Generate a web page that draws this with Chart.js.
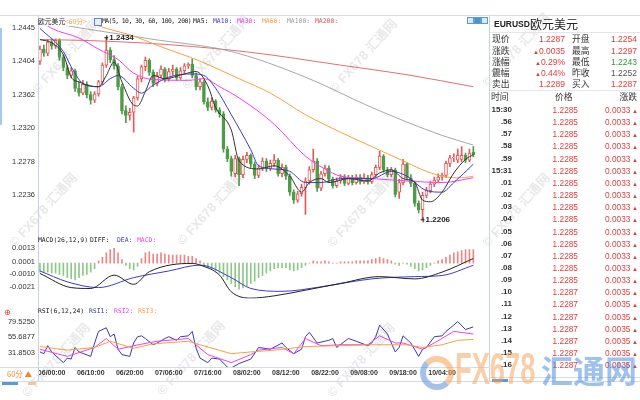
<!DOCTYPE html>
<html><head><meta charset="utf-8">
<script src="https://cdn.jsdelivr.net/npm/chart.js@4.4.1/dist/chart.umd.min.js"></script>
<style>
html,body{margin:0;padding:0;background:#fff;width:640px;height:400px;overflow:hidden;font-family:"Liberation Sans",Arial,sans-serif;position:relative;}
canvas{position:absolute;left:0;}
.t{position:absolute;line-height:10px;white-space:pre;}
.m{font-family:"DejaVu Sans Mono","Liberation Mono",monospace;font-size:6.4px;color:#222;}
.ln{position:absolute;background:#d3dae3;}
.wm{position:absolute;white-space:pre;font-size:13px;font-weight:bold;color:rgba(120,120,120,0.17);transform-origin:left bottom;transform:rotate(-48deg);line-height:14px;font-family:"Liberation Sans","Noto Sans CJK SC",sans-serif;}
</style></head><body>
<canvas id="main" width="490" height="214" style="top:16px;width:490px;height:214px"></canvas>
<canvas id="macd" width="490" height="76" style="top:230px;width:490px;height:76px"></canvas>
<canvas id="rsi" width="490" height="76" style="top:306px;width:490px;height:76px"></canvas>
<script>
// ---------- DATA ----------
const tickLabels=['06/00:00','06/10:00','06/20:00','07/06:00','07/16:00','08/02:00','08/12:00','08/22:00','09/08:00','09/18:00','10/04:00'];
const labels=[];
for(let k=0;k<115;k++){const h=21+k;const d=5+Math.floor(h/24);labels.push(String(d).padStart(2,'0')+'/'+String(h%24).padStart(2,'0')+':00');}

const opens=[1.2404,1.2419,1.2414,1.2428,1.2423,1.2430,1.2409,1.2396,1.2386,1.2392,
1.2370,1.2364,1.2375,1.2362,1.2355,1.2363,1.2378,1.2399,1.2418,1.2406,
1.2398,1.2372,1.2342,1.2336,1.2340,1.2358,1.2382,1.2397,1.2405,1.2390,
1.2376,1.2386,1.2394,1.2381,1.2391,1.2394,1.2383,1.2392,1.2398,1.2400,
1.2386,1.2372,1.2378,1.2353,1.2346,1.2354,1.2343,1.2338,1.2294,1.2282,
1.2263,1.2282,1.2262,1.2281,1.2286,1.2275,1.2261,1.2270,1.2279,1.2270,
1.2276,1.2280,1.2263,1.2271,1.2260,1.2240,1.2230,1.2238,1.2246,1.2254,
1.2268,1.2279,1.2245,1.2263,1.2270,1.2256,1.2248,1.2254,1.2259,1.2251,
1.2258,1.2252,1.2259,1.2253,1.2258,1.2253,1.2262,1.2271,1.2285,1.2268,
1.2262,1.2268,1.2240,1.2252,1.2275,1.2258,1.2251,1.2226,1.2218,1.2236,
1.2242,1.2250,1.2255,1.2259,1.2261,1.2276,1.2283,1.2280,1.2281,1.2286,
1.2280,1.2290];
const highs=[1.2423,1.2424,1.2431,1.2432,1.2432,1.2432,1.2412,1.2399,1.2396,1.2394,
1.2378,1.2380,1.2378,1.2366,1.2366,1.2380,1.2402,1.2434,1.2421,1.2411,
1.2401,1.2375,1.2348,1.2345,1.2360,1.2385,1.2399,1.2409,1.2407,1.2393,
1.2390,1.2398,1.2396,1.2395,1.2399,1.2396,1.2396,1.2401,1.2402,1.2407,
1.2389,1.2382,1.2380,1.2358,1.2358,1.2356,1.2346,1.2341,1.2297,1.2285,
1.2286,1.2284,1.2285,1.2290,1.2288,1.2278,1.2274,1.2283,1.2282,1.2280,
1.2287,1.2282,1.2275,1.2274,1.2263,1.2243,1.2241,1.2250,1.2258,1.2272,
1.2294,1.2282,1.2266,1.2274,1.2273,1.2259,1.2258,1.2262,1.2262,1.2261,
1.2261,1.2262,1.2262,1.2263,1.2261,1.2265,1.2274,1.2291,1.2287,1.2271,
1.2271,1.2270,1.2256,1.2281,1.2277,1.2262,1.2254,1.2229,1.2240,1.2246,
1.2254,1.2259,1.2263,1.2264,1.2279,1.2286,1.2288,1.2294,1.2297,1.2289,
1.2294,1.2297];
const lows=[1.2400,1.2410,1.2411,1.2419,1.2420,1.2405,1.2392,1.2382,1.2383,1.2366,
1.2360,1.2362,1.2358,1.2350,1.2352,1.2360,1.2375,1.2396,1.2402,1.2394,
1.2368,1.2338,1.2327,1.2330,1.2315,1.2355,1.2378,1.2392,1.2386,1.2372,
1.2373,1.2383,1.2378,1.2379,1.2386,1.2380,1.2381,1.2389,1.2395,1.2383,
1.2368,1.2368,1.2350,1.2342,1.2343,1.2340,1.2334,1.2290,1.2278,1.2260,
1.2259,1.2248,1.2258,1.2277,1.2271,1.2257,1.2258,1.2267,1.2266,1.2267,
1.2272,1.2260,1.2259,1.2256,1.2236,1.2226,1.2227,1.2235,1.2212,1.2250,
1.2265,1.2241,1.2242,1.2260,1.2252,1.2245,1.2246,1.2251,1.2248,1.2249,
1.2249,1.2250,1.2250,1.2251,1.2250,1.2251,1.2259,1.2268,1.2265,1.2259,
1.2259,1.2234,1.2232,1.2249,1.2255,1.2247,1.2222,1.2214,1.2206,1.2233,
1.2239,1.2247,1.2252,1.2255,1.2258,1.2272,1.2278,1.2277,1.2278,1.2277,
1.2278,1.2284];
const closes=[1.2419,1.2414,1.2428,1.2423,1.2430,1.2409,1.2396,1.2386,1.2392,1.2370,
1.2364,1.2375,1.2362,1.2355,1.2363,1.2378,1.2399,1.2418,1.2406,1.2398,
1.2372,1.2342,1.2336,1.2340,1.2358,1.2382,1.2397,1.2405,1.2390,1.2376,
1.2386,1.2394,1.2381,1.2391,1.2394,1.2383,1.2392,1.2398,1.2400,1.2386,
1.2372,1.2378,1.2353,1.2346,1.2354,1.2343,1.2338,1.2294,1.2282,1.2266,
1.2282,1.2262,1.2281,1.2286,1.2275,1.2261,1.2270,1.2279,1.2270,1.2276,
1.2280,1.2263,1.2271,1.2260,1.2240,1.2230,1.2238,1.2246,1.2254,1.2268,
1.2279,1.2245,1.2263,1.2270,1.2256,1.2248,1.2254,1.2259,1.2251,1.2258,
1.2252,1.2259,1.2253,1.2258,1.2253,1.2262,1.2271,1.2285,1.2268,1.2262,
1.2268,1.2237,1.2252,1.2275,1.2258,1.2251,1.2226,1.2218,1.2236,1.2242,
1.2250,1.2255,1.2259,1.2261,1.2276,1.2283,1.2284,1.2286,1.2286,1.2280,
1.2289,1.2287];

// moving averages: [candle index, value]
const ma5=[[0,1.2431],[3,1.2427],[6,1.2412],[8,1.2384],[10,1.2378],[13,1.2373],[15,1.2372],[17,1.2386],[19,1.2403],[21,1.2378],[24,1.2349],[25,1.2348],[27,1.2366],[29,1.2386],[32,1.2382],[37,1.2388],[40,1.2391],[43,1.2373],[45,1.2346],[49,1.2318],[51,1.2279],[56,1.2269],[60,1.2273],[64,1.2260],[67,1.2240],[69,1.2252],[72,1.2257],[74,1.2252],[79,1.2257],[84,1.2254],[87,1.2264],[90,1.2268],[93,1.2257],[96,1.2252],[98,1.2230],[100,1.2228],[103,1.2240],[106,1.2264],[109,1.2281],[111,1.2287]];
const ma10=[[0,1.2445],[6,1.2416],[8,1.2397],[11,1.2376],[15,1.2372],[18,1.2382],[20,1.2386],[24,1.2370],[26,1.2364],[29,1.2374],[33,1.2384],[39,1.2388],[42,1.2386],[45,1.2370],[49,1.2337],[54,1.2293],[56,1.2273],[60,1.2269],[64,1.2266],[68,1.2252],[72,1.2252],[77,1.2257],[85,1.2257],[90,1.2266],[94,1.2260],[99,1.2242],[103,1.2240],[106,1.2252],[111,1.2275]];
const ma30=[[0,1.2455],[3,1.2445],[10,1.2433],[15,1.2419],[20,1.2406],[24,1.2389],[29,1.2381],[38,1.2380],[42,1.2382],[46,1.2372],[51,1.2358],[60,1.2325],[68,1.2285],[73,1.2269],[77,1.2260],[85,1.2257],[94,1.2254],[103,1.2252],[111,1.2258]];
const ma60=[[10,1.2458],[17,1.2445],[23,1.2437],[31,1.2422],[41,1.2404],[51,1.2382],[59,1.2364],[68,1.2337],[77,1.2315],[85,1.2297],[94,1.2277],[99,1.2266],[104,1.2259],[108,1.2258],[111,1.2260]];
const ma100=[[0,1.2454],[11,1.2445],[28,1.2432],[49,1.2416],[68,1.2384],[85,1.2346],[103,1.2311],[111,1.2299]];
const ma200=[[0,1.2431],[11,1.2430],[32,1.2425],[54,1.2415],[77,1.2399],[94,1.2387],[111,1.2372]];

const macdHist=[-0.0008,-0.0008,-0.0008,-0.0009,-0.0009,-0.0010,-0.0011,-0.0013,-0.0014,-0.0015,
-0.0013,-0.0011,-0.0010,-0.0008,-0.0005,0.0002,0.0005,0.0009,0.0012,0.0013,
0.0009,0.0003,-0.0002,-0.0005,-0.0006,-0.0003,0.0004,0.0009,0.0010,0.0008,
0.0008,0.0009,0.0008,0.0007,0.0007,0.0007,0.0007,0.0007,0.0006,0.0006,
0.0004,0.0002,-0.0002,-0.0004,-0.0005,-0.0007,-0.0009,-0.0012,-0.0015,-0.0018,
-0.0021,-0.0023,-0.0022,-0.0020,-0.0018,-0.0016,-0.0013,-0.0011,-0.0009,-0.0007,
-0.0005,-0.0004,-0.0004,-0.0004,-0.0006,-0.0007,-0.0006,-0.0004,-0.0002,0.0000,
0.0002,0.0001,0.0001,0.0002,0.0001,0.0000,0.0000,0.0001,0.0001,0.0001,
0.0001,0.0002,0.0002,0.0002,0.0002,0.0003,0.0004,0.0005,0.0004,0.0003,
0.0002,-0.0001,-0.0002,0.0000,-0.0001,-0.0003,-0.0005,-0.0007,-0.0006,-0.0004,
-0.0002,0.0000,0.0002,0.0003,0.0005,0.0007,0.0009,0.0010,0.0011,0.0012,
0.0012,0.0012];
const diff=[[0,-0.00092],[8,-0.00217],[13,-0.00225],[19,-0.00107],[24,-0.00188],[28,-0.00077],[39,-0.00003],[41,-0.00018],[46,-0.00107],[49,-0.00254],[54,-0.00310],[60,-0.0029],[68,-0.0024],[77,-0.0018],[87,-0.0012],[96,-0.0014],[103,-0.0008],[111,0.0004]];
const dea=[[0,-0.0007],[7,-0.00166],[15,-0.00217],[24,-0.00129],[33,-0.0007],[41,-0.00018],[49,-0.00129],[54,-0.00225],[62,-0.0025],[72,-0.0021],[85,-0.0014],[96,-0.0012],[103,-0.0011],[111,-0.0002]];

const rsi1=[[0,33.2],[1,30.5],[2,42.7],[3,33.2],[5,22.3],[6,16.9],[7,23.7],[8,22.3],[9,40],[10,33.2],[13,26.4],[14,46.8],[15,64.5],[17,70],[18,56.4],[19,60.5],[20,37.3],[21,29.1],[23,26.4],[24,46.8],[25,56.4],[26,57.7],[27,53.6],[29,44.1],[30,46.8],[32,53.6],[33,56.4],[35,50.9],[36,56.4],[38,57.7],[39,64.5],[40,38.7],[41,23.7],[43,16.9],[44,23.7],[46,22.3],[48,10],[49,8.7],[51,15.5],[54,22.3],[56,40],[59,37.3],[62,46.8],[63,40],[65,30.5],[67,37.3],[68,56.4],[69,63.2],[71,46.8],[74,50.9],[75,53.6],[76,40],[79,53.6],[81,49.5],[84,42.7],[85,46.8],[86,56.4],[87,74.1],[89,60.5],[91,33.2],[92,40],[93,57.7],[95,46.8],[97,26.4],[98,37.3],[99,40],[101,56.4],[103,57.7],[104,64.5],[106,74.1],[107,79.5],[109,67.3],[111,71.4]];
const rsi2=[[0,37.3],[7,26.4],[14,40],[17,53.6],[20,37.3],[24,42.7],[30,49.5],[38,53.6],[43,29.1],[49,16.9],[54,29.1],[56,35.9],[62,40],[65,30.5],[68,53.6],[72,42.7],[77,44.1],[84,44.1],[87,57.7],[91,46.8],[93,46.8],[98,37.3],[101,46.8],[106,64.5],[111,60.5]];
const rsi3=[[0,41.4],[7,35.9],[14,40],[18,49.5],[24,38.7],[29,45.5],[38,49.5],[41,44.1],[49,30.5],[54,33.2],[60,35.9],[68,41.4],[77,42.8],[85,44.1],[94,44.1],[98,40],[103,44.1],[107,50.9],[111,52.3]];

const yTicksMain=[1.2236,1.2278,1.2320,1.2362,1.2404,1.2445];
const yTicksMacd=[-0.0021,-0.0010,0.0001,0.0013];
const yTicksRsi=[31.8503,55.6877,79.5250];

// ---------- CHARTS ----------
const RED='#e05a5a', GREEN='#4f9b47';
const up=i=>closes[i]>=opens[i];
const pts=a=>a.map(([i,v])=>({x:labels[i],y:v}));
const line=(data,color,extra)=>Object.assign({type:'line',data:pts(data),borderColor:color,borderWidth:1,pointRadius:0,cubicInterpolationMode:'monotone',spanGaps:true,order:0},extra||{});
const yAxis=(min,max,ticks)=>({min,max,afterBuildTicks:s=>{s.ticks=ticks.map(v=>({value:v}));},afterFit:s=>{s.width=38;},
  ticks:{font:{size:7.5,family:'Liberation Sans'},color:'#333',padding:3,callback:v=>Number(v).toFixed(4)},grid:{display:false,drawTicks:false},border:{display:false}});
const xHidden={type:'category',offset:true,display:false};
const base={responsive:false,animation:false,devicePixelRatio:1,events:[],plugins:{legend:{display:false},tooltip:{enabled:false}}};

const annot={id:'annot',afterDatasetsDraw(c){
  const ctx=c.ctx,xs=c.scales.x,ys=c.scales.y;
  const hi=highs.indexOf(Math.max(...highs)), lo=lows.indexOf(Math.min(...lows));
  ctx.save();ctx.fillStyle='#222';ctx.strokeStyle='#222';ctx.font='bold 8px "Liberation Sans"';ctx.textBaseline='middle';
  [[hi,highs[hi]],[lo,lows[lo]]].forEach(([i,v])=>{
    const x=xs.getPixelForValue(i),y=ys.getPixelForValue(v);
    ctx.beginPath();ctx.moveTo(x-2,y+0.5);ctx.lineTo(x+2,y+0.5);ctx.moveTo(x+0.5,y-2);ctx.lineTo(x+0.5,y+3);ctx.lineWidth=1;ctx.stroke();
    ctx.fillText(v.toFixed(4),x+3,y+0.5);
  });
  ctx.restore();}};

new Chart(document.getElementById('main'),{type:'bar',
  data:{labels,datasets:[
    line(ma5,'#333333'),line(ma10,'#3c3cc8'),line(ma30,'#f040f0'),line(ma60,'#f8a040'),line(ma100,'#a8a8a8'),line(ma200,'#e07070'),
    {label:'body',data:opens.map((o,i)=>[Math.min(o,closes[i]),Math.max(o,closes[i])]),
     backgroundColor:c=>up(c.dataIndex)?'#ffffff':GREEN,borderColor:c=>up(c.dataIndex)?RED:GREEN,borderWidth:1,borderSkipped:false,barThickness:3,grouped:false,order:5},
    {label:'wick',data:highs.map((h,i)=>[lows[i],h]),backgroundColor:c=>up(c.dataIndex)?RED:GREEN,barThickness:1,grouped:false,order:6}
  ]},
  options:Object.assign({},base,{layout:{padding:{top:10,bottom:2,right:3,left:0}},
    scales:{x:xHidden,y:yAxis(1.2202,1.2448,yTicksMain)}}),
  plugins:[annot]});

new Chart(document.getElementById('macd'),{type:'bar',
  data:{labels,datasets:[
    line(diff,'#222222'),line(dea,'#3c3cc8'),
    {label:'MACD',data:macdHist,backgroundColor:c=>macdHist[c.dataIndex]>=0?'#ee8585':'#8cc886',barThickness:1,order:5}
  ]},
  options:Object.assign({},base,{layout:{padding:{top:2,bottom:1,right:3,left:0}},
    scales:{x:xHidden,y:yAxis(-0.003135,0.00226,yTicksMacd)}})});

new Chart(document.getElementById('rsi'),{type:'line',
  data:{labels,datasets:[
    line(rsi3,'#f8a040',{cubicInterpolationMode:'default',tension:0}),
    line(rsi2,'#f040f0',{cubicInterpolationMode:'default',tension:0}),
    line(rsi1,'#3a3ab0',{cubicInterpolationMode:'default',tension:0})
  ]},
  options:Object.assign({},base,{layout:{padding:{top:1,bottom:0,right:3,left:0}},
    scales:{x:{type:'category',offset:true,afterFit:s=>{s.height=14;},
      afterBuildTicks:s=>{s.ticks=s.ticks.filter(t=>tickLabels.includes(labels[t.value]));},
      ticks:{autoSkip:false,maxRotation:0,minRotation:0,padding:1,font:{size:7,weight:'bold',family:'Liberation Sans'},color:'#333'},
      grid:{display:false,drawTicks:false},border:{display:false}},
      y:yAxis(8.68,91.79,yTicksRsi)}})});

// ---------- HTML TEXT / FRAME ----------
function add(html,css){const d=document.createElement('div');d.className='t';d.innerHTML=html;d.style.cssText+=css;document.body.appendChild(d);return d;}
function ln(x,y,w,h,c){const d=document.createElement('div');d.className='ln';d.style.cssText+=`left:${x}px;top:${y}px;width:${w}px;height:${h}px;`+(c?`background:${c};`:'');document.body.appendChild(d);}
// watermarks
[[40,96],[190,92],[337,96],[490,90],[17,250],[185,248],[335,250],[490,250],[30,400],[165,398],[335,400]].forEach(([x,y])=>{
  const d=document.createElement('div');d.className='wm';d.textContent='© FX678 汇通网';d.style.left=x+'px';d.style.top=(y-14)+'px';document.body.appendChild(d);});
// frame lines
ln(0,15,640,1,'#d5dce5');ln(38,15,1,366,'#c8d2de');ln(489,15,1,366,'#c8d2de');
ln(0,367,490,1,'#d5dce5');ln(0,381,640,1,'#d5dce5');
ln(0,28,2,97,'#a8c8ea');
// main header
add('欧元美元','left:38px;top:16px;font-family:"Noto Sans CJK SC";font-size:6.8px;color:#222;');
add('&lt;60分&gt;','left:65px;top:16px;font-family:"Noto Sans CJK SC";font-size:6.8px;color:#f0a040;');
add('','left:94px;top:18px;width:6px;height:6px;border:1px solid #5a86d0;background:#e8eefa;');
add('MA(5, 10, 30, 60, 100, 200)','left:102px;top:16px;letter-spacing:-0.55px;').classList.add('m');
const mh=[['MA5:',193,'#222'],['MA10:',213,'#3c3cc8'],['MA30:',237,'#f040f0'],['MA60:',262,'#f8a040'],['MA100:',287,'#999'],['MA200:',315,'#e05050']];
mh.forEach(([s,x,c])=>{const d=add(s,`left:${x}px;top:16px;color:${c};`);d.classList.add('m');});
[[467,'#dbe9f8'],[474,'#4f8fd8'],[481,'#dbe9f8']].forEach(([x,c])=>add('',`left:${x}px;top:17px;width:5px;height:5px;border:1px solid #5b9bd5;background:${c};`));
// macd header
[['MACD(26,12,9)',38,'#222'],['DIFF:',90,'#222'],['DEA:',117,'#3c3cc8'],['MACD:',137,'#f040f0']].forEach(([s,x,c])=>{const d=add(s,`left:${x}px;top:235px;color:${c};`);d.classList.add('m');});
// rsi header
[['RSI(6,12,24)',38,'#222'],['RSI1:',89,'#3a3ab0'],['RSI2:',114,'#f040f0'],['RSI3:',138,'#f8a040']].forEach(([s,x,c])=>{const d=add(s,`left:${x}px;top:306px;color:${c};`);d.classList.add('m');});
add('⊕','left:4px;top:308px;color:#e03030;font-size:8px;');
// period box
add('60分 ▲','left:3px;top:369px;width:33px;text-align:center;font-family:"Noto Sans CJK SC";font-size:7.5px;color:#f08a28;');
add('','left:2px;top:382px;width:16px;height:3px;background:#5b9bd5;');
add('','left:28px;top:382px;width:8px;height:3px;background:#f4c79a;');

// ---------- RIGHT PANEL ----------
const quoteL1=['现价','涨跌','涨幅','震幅','卖出'], quoteV1=['1.2287','▲0.0035','▲0.29%','▲0.44%','1.2289'];
const quoteL2=['开盘','最高','最低','昨收','买入'], quoteV2=['1.2254','1.2297','1.2243','1.2252','1.2287'];
const quoteC2=['#e03c3c','#e03c3c','#2f9a2f','#555','#e03c3c'];
const tradeTimes=['15:30','.56','.57','.58','.59','15:31','.01','.02','.03','.04','.05','.06','.07','.08','.09','.10','.11','.12','.13','.14','.15','.16'];
const tradePrices=['1.2285','1.2285','1.2285','1.2285','1.2285','1.2285','1.2285','1.2285','1.2285','1.2285','1.2285','1.2285','1.2285','1.2285','1.2285','1.2287','1.2287','1.2287','1.2287','1.2287','1.2287','1.2287'];
const tradeChg=['0.0033','0.0033','0.0033','0.0033','0.0033','0.0033','0.0033','0.0033','0.0033','0.0033','0.0033','0.0033','0.0033','0.0033','0.0033','0.0035','0.0035','0.0035','0.0035','0.0035','0.0035','0.0035'];
const tri=s=>s.replace('▲','<span style="font-size:6px">▲</span>');
add('EURUSD','left:494px;top:19px;font-weight:bold;font-size:8.5px;color:#222;');
add('欧元美元','left:530px;top:17px;line-height:14px;font-family:"Noto Sans CJK SC";font-size:12px;color:#222;');
ln(490,32,150,1,'#e3e7ec');
const qy=[39,50.5,61.5,72.5,84];
qy.forEach((y,k)=>{
  add(quoteL1[k],`left:492px;top:${y-5}px;font-family:"Noto Sans CJK SC";font-size:8.8px;color:#333;`);
  add(tri(quoteV1[k]),`right:${640-565}px;top:${y-5}px;font-size:8.5px;color:#e03c3c;`);
  add(quoteL2[k],`left:572px;top:${y-5}px;font-family:"Noto Sans CJK SC";font-size:8.8px;color:#333;`);
  add(quoteV2[k],`right:${640-637}px;top:${y-5}px;font-size:8.5px;color:${quoteC2[k]};`);
});
ln(490,90,150,1,'#e3e7ec');
add('时间','left:491px;top:92px;font-family:"Noto Sans CJK SC";font-size:8.8px;color:#333;');
add('价格','left:555px;top:92px;font-family:"Noto Sans CJK SC";font-size:8.8px;color:#333;');
add('涨跌','right:3px;top:92px;font-family:"Noto Sans CJK SC";font-size:8.8px;color:#333;');
tradeTimes.forEach((s,k)=>{
  const y=110+k*12.15;
  add(s,`right:${640-512}px;top:${y-5}px;font-size:8px;font-weight:bold;color:#333;`);
  add(tradePrices[k],`right:${640-578}px;top:${y-5}px;font-size:8.3px;color:#e03c3c;`);
  add(tradeChg[k]+'<span style="font-size:6px"> ▲</span>',`right:2px;top:${y-5}px;font-size:8.3px;color:#e03c3c;`);
});
ln(490,377,150,1,'#d5dce5');
add('','left:492px;top:379px;width:16px;height:3px;background:#5b9bd5;');
// big logo
add('<span style="display:inline-block;width:34px;height:34px;border-radius:50%;border:6px solid #f5a050;border-left-color:#5b8fd8;border-bottom-color:#5b8fd8;box-sizing:border-box;vertical-align:middle"></span>','left:420px;top:352px;line-height:40px;opacity:0.55;');
add('FX678','left:455px;top:346px;line-height:46px;font-size:44px;font-weight:bold;color:#f5a050;opacity:0.5;transform:scaleX(0.62);transform-origin:left center;');
add('汇通网','left:541px;top:346px;line-height:46px;font-family:"Noto Sans CJK SC";font-size:32px;font-weight:bold;color:#3f86dc;opacity:0.5;');
</script>
</body></html>
